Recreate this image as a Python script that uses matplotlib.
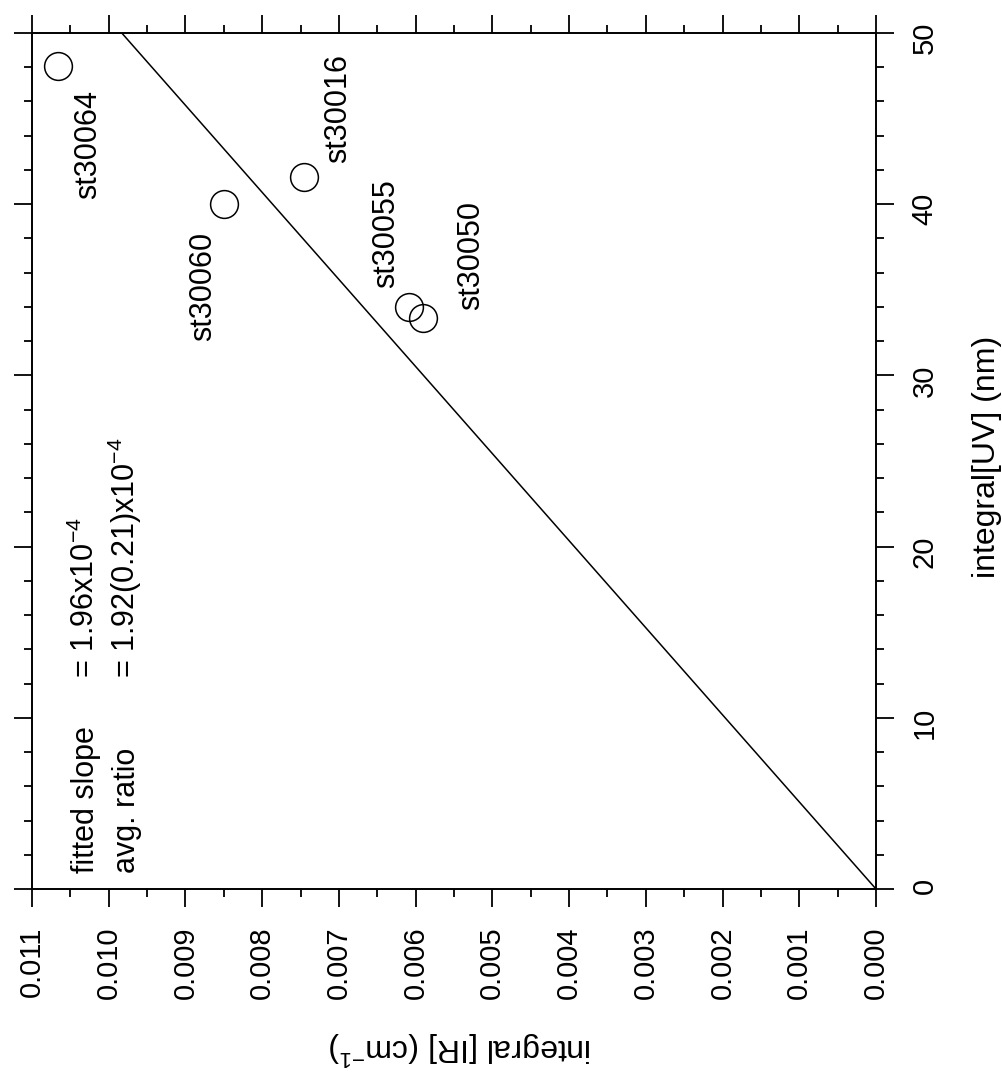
import matplotlib
matplotlib.use('Agg')
from matplotlib import pyplot as plt
from matplotlib.ticker import MultipleLocator

plt.rcParams['font.family'] = ['Liberation Sans', 'DejaVu Sans']
plt.rcParams['mathtext.fontset'] = 'custom'
plt.rcParams['mathtext.rm'] = 'Liberation Sans'
plt.rcParams['mathtext.it'] = 'Liberation Sans:italic'

# samples: integral[IR] (cm-1) vs integral[UV] (nm)
names = ['st30064', 'st30016', 'st30060', 'st30055', 'st30050']
ir_vals = [0.01066, 0.00746, 0.00850, 0.00609, 0.00591]
uv_vals = [48.1, 41.6, 40.0, 34.0, 33.35]

# fitted line through origin
fit_uv = [0, 50]
fit_ir = [0.0, 0.00983]

# where each sample name sits (ir, uv)
label_pos = [(0.01027, 43.5), (0.00701, 45.6), (0.00877, 35.2),
             (0.00639, 38.3), (0.00528, 37.0)]

fig = plt.figure(figsize=(10.03, 10.76), dpi=100)
ax = fig.add_axes([32 / 1003, (1076 - 889) / 1076, 844 / 1003, 856 / 1076])

# the page is turned: IR runs right-to-left along the bottom, UV upward on the right
ax.plot(fit_ir, fit_uv, color='black', lw=1.1)
ax.plot(ir_vals, uv_vals, 'o', ms=20, mfc='none', mec='black', mew=1.1)

for name, (lx, ly) in zip(names, label_pos):
    ax.text(lx, ly, name, rotation=90, ha='center', va='center', fontsize=22)

ax.set_xlim(0.011, 0.0)
ax.set_ylim(0, 50)

ax.xaxis.set_major_locator(MultipleLocator(0.001))
ax.xaxis.set_minor_locator(MultipleLocator(0.0005))
ax.yaxis.set_major_locator(MultipleLocator(10))
ax.yaxis.set_minor_locator(MultipleLocator(2))
ax.xaxis.set_major_formatter(plt.FuncFormatter(lambda v, p: '%.3f' % abs(v)))

ax.tick_params(which='both', direction='out', top=True, right=True, left=True, bottom=True,
               labelleft=False, labeltop=False, labelright=True, labelbottom=True,
               width=1.3, labelsize=21)
ax.tick_params(which='major', length=13)
ax.tick_params(which='minor', length=6)
ax.tick_params(axis='x', labelrotation=90, pad=14)
ax.tick_params(axis='y', labelrotation=90, pad=12)

for s in ax.spines.values():
    s.set_linewidth(1.4)

ax.yaxis.set_label_position('right')
ax.set_ylabel('integral[UV] (nm)', fontsize=23, rotation=90)
ax.yaxis.set_label_coords(1.114, 0.505)
ax.set_xlabel('integral [IR] (cm$^{-1}$)', fontsize=23, rotation=180, va='center')
ax.xaxis.set_label_coords(0.508, -0.186)

ax.text(0.0735, 0.0187, 'fitted slope', transform=ax.transAxes, rotation=90,
        rotation_mode='anchor', ha='left', va='baseline', fontsize=22)
ax.text(0.122, 0.0187, 'avg. ratio', transform=ax.transAxes, rotation=90,
        rotation_mode='anchor', ha='left', va='baseline', fontsize=22)
ax.text(0.0735, 0.2465, '= 1.96x10$^{-4}$', transform=ax.transAxes, rotation=90,
        rotation_mode='anchor', ha='left', va='baseline', fontsize=22)
ax.text(0.122, 0.2465, '= 1.92(0.21)x10$^{-4}$', transform=ax.transAxes, rotation=90,
        rotation_mode='anchor', ha='left', va='baseline', fontsize=22)

plt.savefig('out.png', dpi=100)
